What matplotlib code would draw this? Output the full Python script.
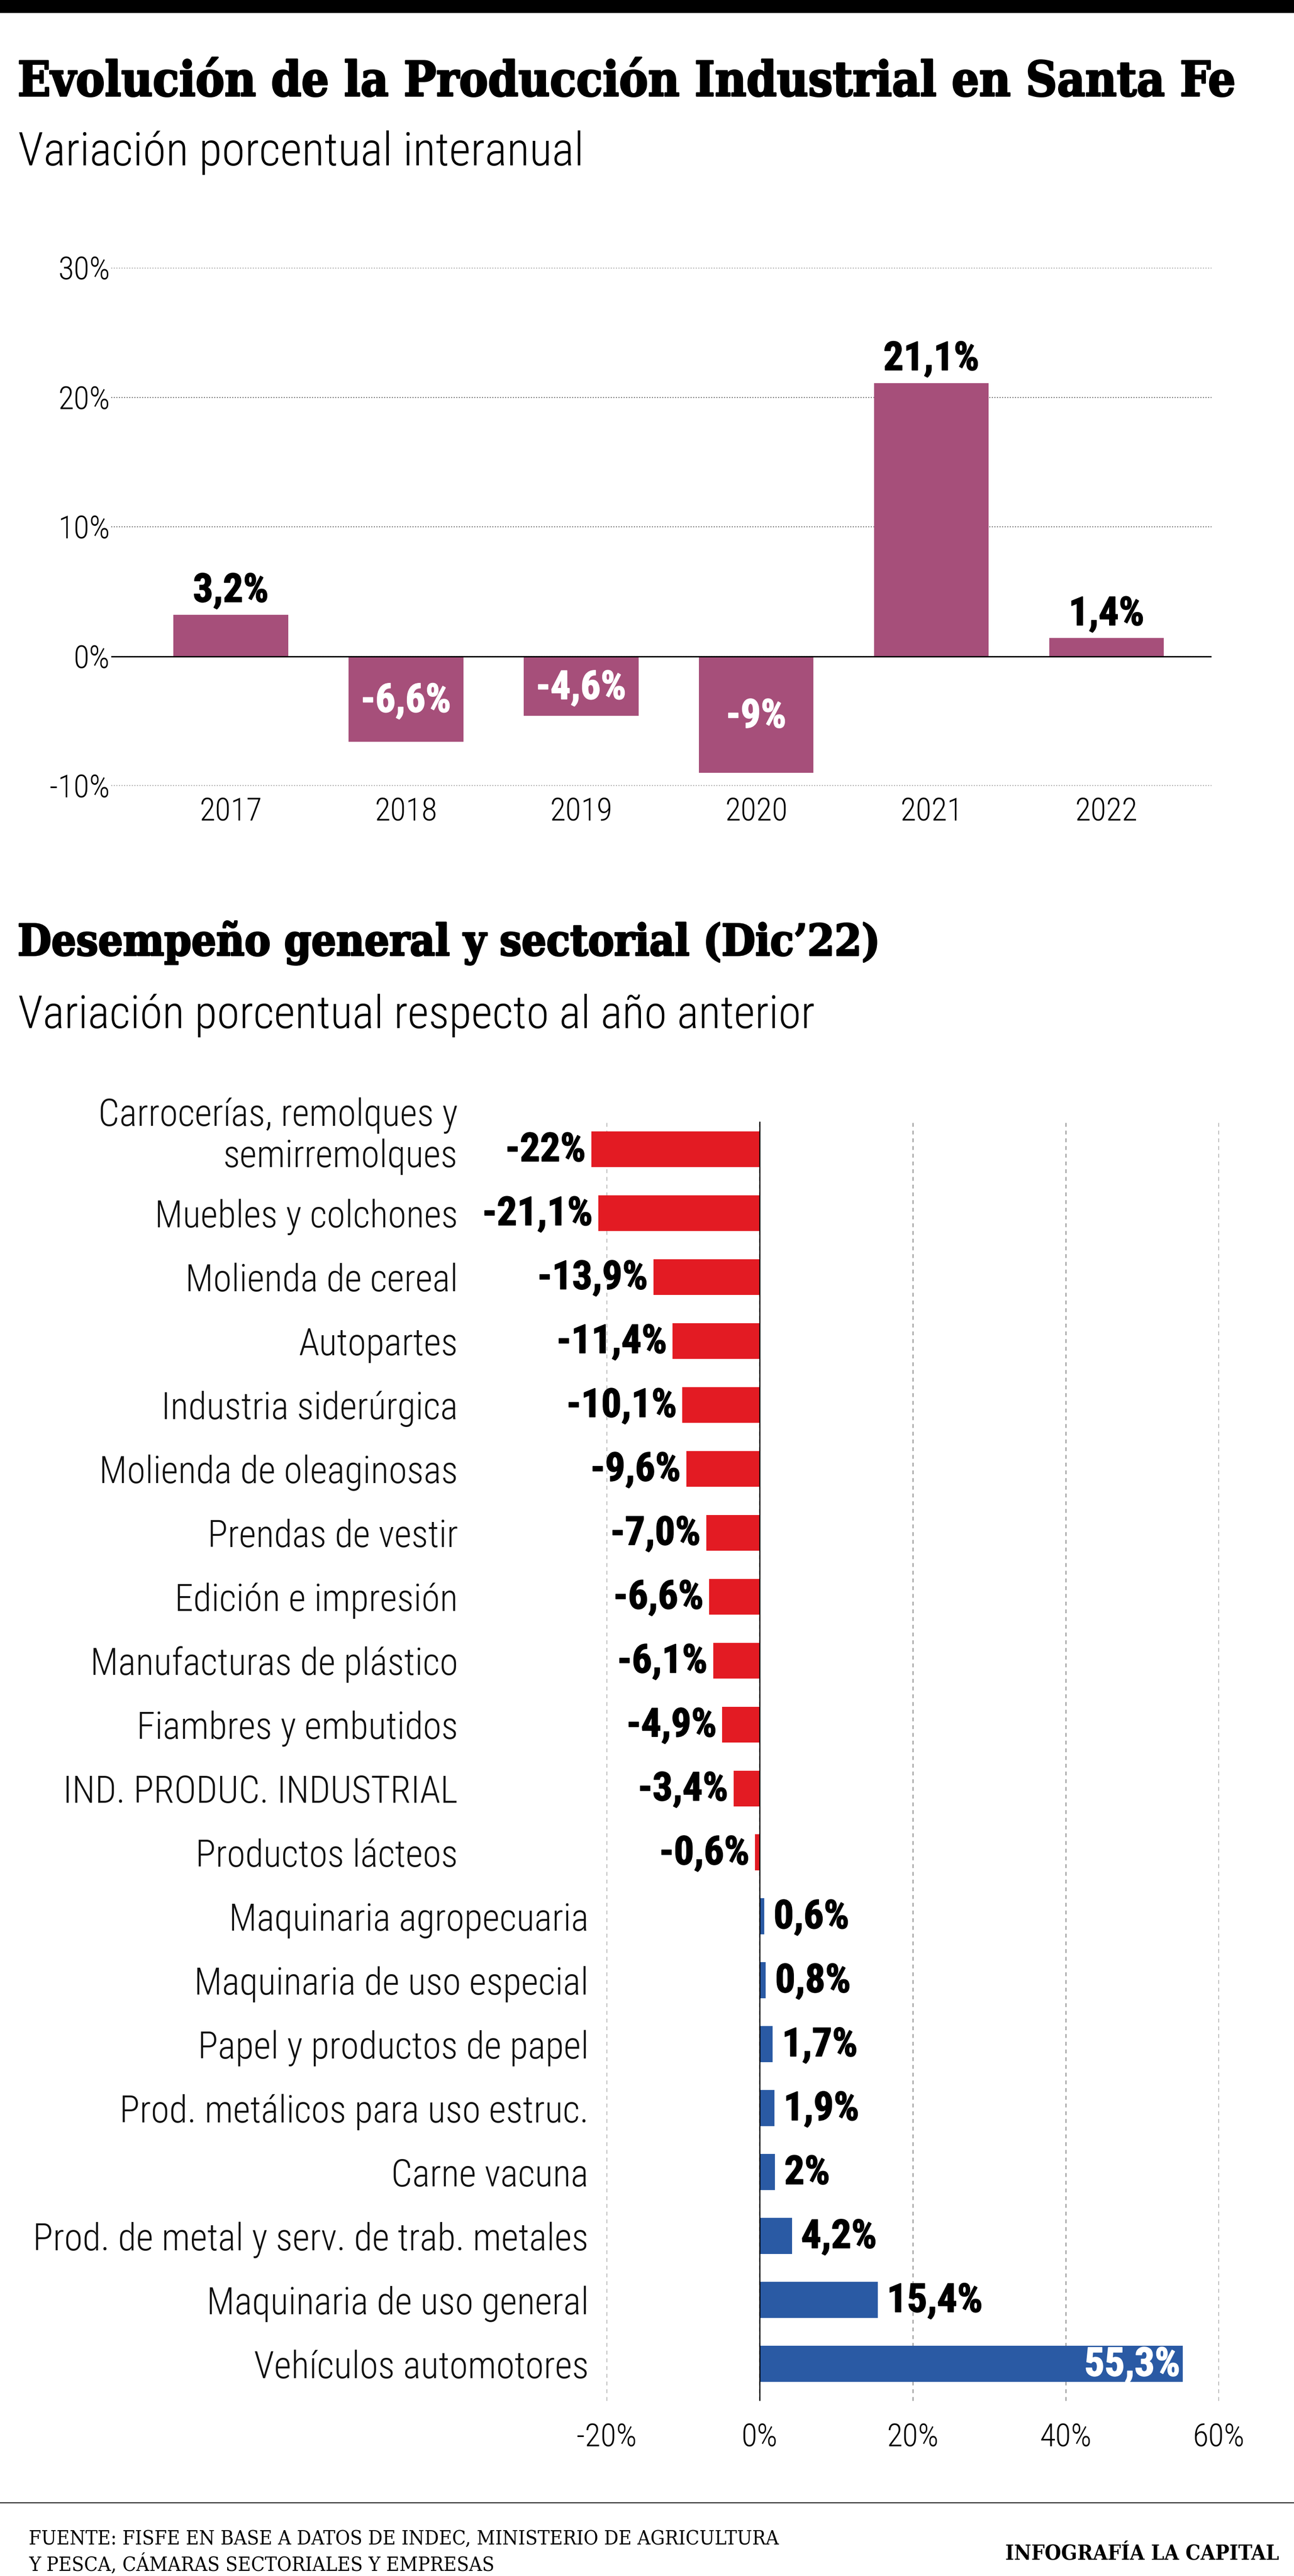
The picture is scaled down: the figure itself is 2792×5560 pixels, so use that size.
import matplotlib
matplotlib.use("Agg")
import matplotlib.pyplot as plt
from matplotlib import transforms
from matplotlib import patheffects as pe
from matplotlib.patches import Rectangle
from matplotlib.lines import Line2D

# ---------------- data: chart 1 ----------------
years = ["2017", "2018", "2019", "2020", "2021", "2022"]
yoy_values = [3.2, -6.6, -4.6, -9.0, 21.1, 1.4]
yoy_labels = ["3,2%", "-6,6%", "-4,6%", "-9%", "21,1%", "1,4%"]
yoy_ticks = [-10, 0, 10, 20, 30]
yoy_ticklabels = ["-10%", "0%", "10%", "20%", "30%"]

# ---------------- data: chart 2 ----------------
sectors = [
    "Carrocerías, remolques y\nsemirremolques",
    "Muebles y colchones",
    "Molienda de cereal",
    "Autopartes",
    "Industria siderúrgica",
    "Molienda de oleaginosas",
    "Prendas de vestir",
    "Edición e impresión",
    "Manufacturas de plástico",
    "Fiambres y embutidos",
    "IND. PRODUC. INDUSTRIAL",
    "Productos lácteos",
    "Maquinaria agropecuaria",
    "Maquinaria de uso especial",
    "Papel y productos de papel",
    "Prod. metálicos para uso estruc.",
    "Carne vacuna",
    "Prod. de metal y serv. de trab. metales",
    "Maquinaria de uso general",
    "Vehículos automotores",
]
sector_values = [-22.0, -21.1, -13.9, -11.4, -10.1, -9.6, -7.0, -6.6, -6.1, -4.9,
                 -3.4, -0.6, 0.6, 0.8, 1.7, 1.9, 2.0, 4.2, 15.4, 55.3]
sector_labels = ["-22%", "-21,1%", "-13,9%", "-11,4%", "-10,1%", "-9,6%", "-7,0%",
                 "-6,6%", "-6,1%", "-4,9%", "-3,4%", "-0,6%", "0,6%", "0,8%",
                 "1,7%", "1,9%", "2%", "4,2%", "15,4%", "55,3%"]
sector_ticks = [-20, 0, 20, 40, 60]
sector_ticklabels = ["-20%", "0%", "20%", "40%", "60%"]

title1 = "Evolución de la Producción Industrial en Santa Fe"
subtitle1 = "Variación porcentual interanual"
title2 = "Desempeño general y sectorial (Dic’22)"
subtitle2 = "Variación porcentual respecto al año anterior"
source1 = "FUENTE: FISFE EN BASE A DATOS DE INDEC, MINISTERIO DE AGRICULTURA"
source2 = "Y PESCA, CÁMARAS SECTORIALES Y EMPRESAS"
credit = "INFOGRAFÍA LA CAPITAL"

# ---------------- style ----------------
W, H, DPI = 2792, 5560, 100
PURPLE = "#A64F7A"
RED = "#E31B23"
BLUE = "#2A5AA4"

LIGHT = dict(family=["Roboto Condensed", "DejaVu Sans"], weight=300)
BOLD = dict(family=["Roboto Condensed", "DejaVu Sans"], weight="bold")
TITLE = dict(family=["DejaVu Serif"], weight="bold", stretch="condensed")
FOOT = dict(family=["DejaVu Serif"], weight="normal", stretch="condensed")


def heavy(color, lw=1.3):
    return [pe.withStroke(linewidth=lw, foreground=color)]


def fx(x):
    return x / W


def fy(y):
    return 1 - y / H


fig = plt.figure(figsize=(W / DPI, H / DPI), dpi=DPI)
fig.patch.set_facecolor("white")
renderer = fig.canvas.get_renderer()


def fit(t, width_px):
    bb = t.get_window_extent(renderer=renderer)
    t.set_fontsize(t.get_fontsize() * width_px / bb.width)
    return t


# top black band
fig.add_artist(Rectangle((0, fy(28)), 1, 28 / H, transform=fig.transFigure,
                         color="black", lw=0))

# titles
fit(fig.text(fx(38), fy(207), title1, ha="left", va="baseline", fontsize=70,
             path_effects=heavy("black", 2.5), **TITLE), 2630)
fit(fig.text(fx(39), fy(357), subtitle1, ha="left", va="baseline", fontsize=60, **LIGHT), 1222)
fit(fig.text(fx(38), fy(2062), title2, ha="left", va="baseline", fontsize=70,
             path_effects=heavy("black", 2.5), **TITLE), 1862)
fit(fig.text(fx(39), fy(2219), subtitle2, ha="left", va="baseline", fontsize=60, **LIGHT), 1720)

# ---------------- chart 1 ----------------
ax1 = fig.add_axes([fx(240), fy(1696), (2614 - 240) / W, (1696 - 578) / H])
xpos = list(range(len(years)))
ax1.bar(xpos, yoy_values, width=0.655, color=PURPLE, zorder=2)
ax1.set_xlim(-0.683, 5.60)
ax1.set_ylim(-10, 30)
for s in ax1.spines.values():
    s.set_visible(False)
ax1.set_yticks(yoy_ticks)
ax1.set_yticklabels(yoy_ticklabels, fontsize=50, **LIGHT)
ax1.set_xticks(xpos)
ax1.set_xticklabels(years, fontsize=50, **LIGHT)
ax1.tick_params(axis="y", length=0, pad=2)
ax1.tick_params(axis="x", length=0, pad=17)
ax1.yaxis.grid(True, linestyle=(0, (1, 1.5)), color="#6f6f6f", lw=1.6, zorder=0)
ax1.set_axisbelow(True)
ax1.axhline(0, color="black", lw=2.2, zorder=3)
ax1.patch.set_alpha(0)

for i, (v, lbl) in enumerate(zip(yoy_values, yoy_labels)):
    if v >= 0:
        ax1.annotate(lbl, (i, v), xytext=(0, 28), textcoords="offset pixels",
                     ha="center", va="baseline", fontsize=62, color="black",
                     annotation_clip=False, path_effects=heavy("black"), **BOLD)
    else:
        ax1.annotate(lbl, (i, v / 2), xytext=(0, 4), textcoords="offset pixels",
                     ha="center", va="center_baseline", fontsize=62, color="white",
                     zorder=4, annotation_clip=False, path_effects=heavy("white"), **BOLD)

# ---------------- chart 2 ----------------
ax2 = fig.add_axes([fx(1309), fy(5182), (2630 - 1309) / W, (5182 - 2421) / H])
ypos = list(range(len(sectors)))
colors = [RED if v < 0 else BLUE for v in sector_values]
bars2 = ax2.barh(ypos, sector_values, height=0.56, color=colors, zorder=2)
for b in bars2:
    b.set_clip_on(False)
ax2.set_xlim(-20, 60)
ax2.set_ylim(19.58, -0.43)
for s in ax2.spines.values():
    s.set_visible(False)
ax2.set_yticks([])
ax2.set_xticks(sector_ticks)
ax2.set_xticklabels(sector_ticklabels, fontsize=50, **LIGHT)
ax2.tick_params(axis="x", length=0, pad=34)
ax2.xaxis.grid(True, linestyle=(0, (4, 4)), color="#8c8c8c", lw=1.5, zorder=0)
ax2.set_axisbelow(True)
ax2.axvline(0, color="black", lw=1.8, zorder=3)
ax2.patch.set_alpha(0)

for i, (v, lbl) in enumerate(zip(sector_values, sector_labels)):
    if v < 0:
        ax2.annotate(lbl, (v, i), xytext=(-12, 6), textcoords="offset pixels",
                     ha="right", va="center_baseline", fontsize=62, color="black",
                     annotation_clip=False, path_effects=heavy("black"), **BOLD)
    elif v > 50:
        ax2.annotate(lbl, (v, i), xytext=(-6, 6), textcoords="offset pixels",
                     ha="right", va="center_baseline", fontsize=62, color="white",
                     zorder=4, annotation_clip=False, path_effects=heavy("white"), **BOLD)
    else:
        ax2.annotate(lbl, (v, i), xytext=(20, 6), textcoords="offset pixels",
                     ha="left", va="center_baseline", fontsize=62, color="black",
                     annotation_clip=False, path_effects=heavy("black"), **BOLD)

# category labels (multi-line names: last line aligned with the bar)
trans = transforms.blended_transform_factory(fig.transFigure, ax2.transData)
for i, (name, v) in enumerate(zip(sectors, sector_values)):
    xr = fx(988) if v < 0 else fx(1270)
    parts = name.split("\n")
    for k, part in enumerate(parts):
        up = (len(parts) - 1 - k) * 89 - (8 if len(parts) > 1 else 0)
        ax2.annotate(part, (xr, i), xycoords=trans, xytext=(0, up),
                     textcoords="offset pixels", ha="right", va="center_baseline",
                     fontsize=58, color="#111111", annotation_clip=False, **LIGHT)

# ---------------- footer ----------------
fig.add_artist(Line2D([0, 1], [fy(5402), fy(5402)], transform=fig.transFigure,
                      color="#222222", lw=1.6))
s1 = fit(fig.text(fx(62), fy(5492), source1, ha="left", va="baseline", fontsize=30, **FOOT), 1617)
fig.text(fx(62), fy(5548), source2, ha="left", va="baseline", fontsize=s1.get_fontsize(), **FOOT)
fit(fig.text(fx(2760), fy(5525), credit, ha="right", va="baseline", fontsize=30, **TITLE), 591)

fig.savefig("out.png", dpi=DPI, facecolor="white")
